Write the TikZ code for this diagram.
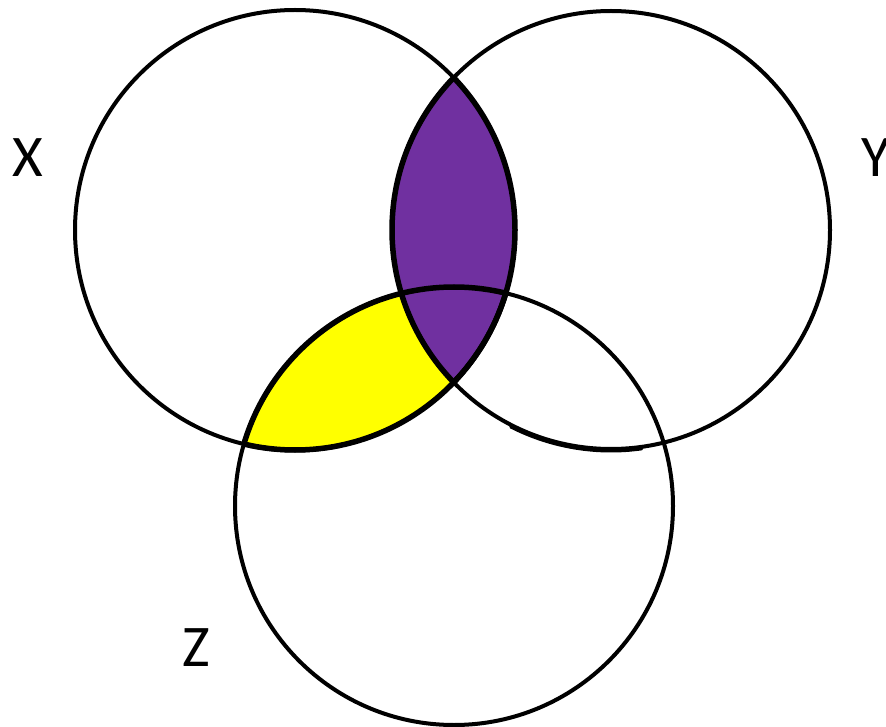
\documentclass[tikz,border=0pt]{standalone}
\usepackage{fontspec}
\setmainfont{Carlito}
\definecolor{vpurple}{HTML}{7030A0}
\definecolor{vyellow}{HTML}{FFFF00}
\begin{document}
\begin{tikzpicture}[x=1pt,y=-1pt,
  circ/.style={draw=black,line width=4pt},
  lbl/.style={font=\fontsize{59}{59}\selectfont,inner sep=0pt}]
\useasboundingbox (0,0) rectangle (886,727);
\coordinate (cx) at (295,230);
\coordinate (cy) at (611,230);
\coordinate (cz) at (454,506);
% yellow: X and Z
\begin{scope}
  \clip (cx) circle[radius=220];
  \fill[vyellow] (cz) circle[radius=219];
\end{scope}
% purple: X and Y
\begin{scope}
  \clip (cx) circle[radius=220];
  \fill[vpurple] (cy) circle[radius=219];
\end{scope}
% thicker borders of shaded regions
\begin{scope}
  \clip (cx) circle[radius=220];
  \draw[line width=5.5pt] (cy) circle[radius=219];
  \draw[line width=5.5pt] (cz) circle[radius=219];
\end{scope}
\begin{scope}
  \clip (cy) circle[radius=219];
  \draw[line width=5.5pt] (cx) circle[radius=220];
\end{scope}
\begin{scope}
  \clip (cz) circle[radius=219];
  \draw[line width=5.5pt] (cx) circle[radius=220];
\end{scope}
% slight shadow thickening at the bottoms of X and Y (y axis points down)
\draw[line width=3pt,line cap=round] (cx) ++(78:221) arc[start angle=78,end angle=102,radius=221];
\draw[line width=3pt,line cap=round] (cy) ++(82:221) arc[start angle=82,end angle=117,radius=221];
\node[circ,circle,minimum size=440pt,inner sep=0pt] (X) at (cx) {};
\node[circ,circle,minimum size=438pt,inner sep=0pt] (Y) at (cy) {};
\node[circ,circle,minimum size=438pt,inner sep=0pt] (Z) at (cz) {};
\node[lbl] (lx) at (28,158) {X};
\node[lbl] (ly) at (876,158) {Y};
\node[lbl] (lz) at (196,648) {Z};
\end{tikzpicture}
\end{document}
